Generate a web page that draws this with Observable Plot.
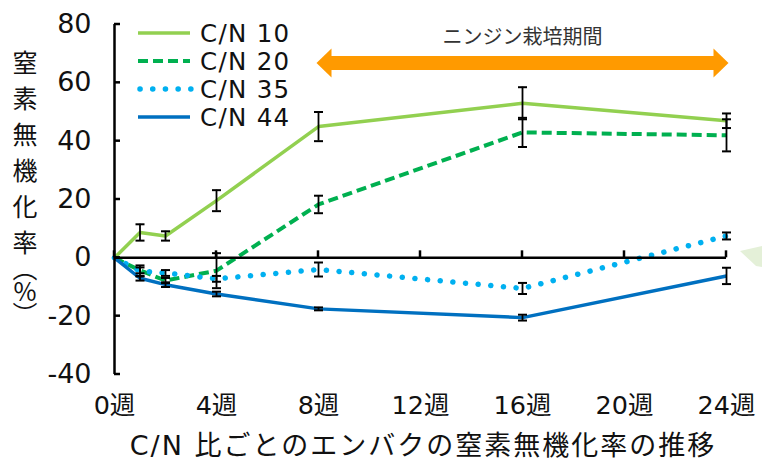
<!DOCTYPE html>
<html><head><meta charset="utf-8">
<script src="https://cdn.jsdelivr.net/npm/d3@7"></script>
<script src="https://cdn.jsdelivr.net/npm/@observablehq/plot@0.6"></script>
<style>html,body{margin:0;padding:0;background:#fff;}</style>
</head><body><div id="chart"></div>
<script>
// ---- data ----
const weeks = [0, 1, 2, 4, 8, 16, 24];
const seriesNames = ["C/N 10", "C/N 20", "C/N 35", "C/N 44"];
const cn10    = [0, 8.7, 7.5, 19.6, 45.0, 53.0, 47.0];
const cn10Err = [0, 2.8, 1.6, 3.6, 5.0, 5.5, 2.5];
const cn20    = [0, -4.3, -7.8, -4.4, 18.3, 43.0, 42.0];
const cn20Err = [0, 1.0, 0.9, 6.0, 3.0, 5.0, 5.5];
const cn35    = [0, -4.5, -5.2, -7.2, -4.0, -10.5, 7.5];
const cn35Err = [0, 1.9, 1.0, 1.0, 2.4, 1.9, 1.2];
const cn44    = [0, -7.0, -9.2, -12.4, -17.5, -20.5, -6.2];
const cn44Err = [0, 0.8, 0.8, 0.8, 0.5, 1.0, 2.8];
const yTicks = [-40, -20, 0, 20, 40, 60, 80];
const xTicks = [0, 4, 8, 12, 16, 20, 24];
const xTickLabels = ["0週", "4週", "8週", "12週", "16週", "20週", "24週"];
const arrowSpan = [8, 24];
const arrowLevel = 66.8;
const arrowLabel = "ニンジン栽培期間";
const yTitleMain = "窒素無機化率";
const yTitleUnit = "︵%︶";
const xTitle = "C/N 比ごとのエンバクの窒素無機化率の推移";

// ---- styles ----
const colors = ["#92d050", "#00b050", "#00b0f0", "#0070c0"];
const dashes = [null, "10,5", "0.1,12.6", null];
const widths = [3.5, 4, 5.5, 3.5];
const caps = ["butt", "butt", "round", "butt"];
const orange = "#ff9a00";
const font = "'DejaVu Sans', 'Noto Sans CJK JP', sans-serif";
const cjk = "'Noto Sans CJK JP', sans-serif";

const vals = [cn10, cn20, cn35, cn44];
const errs = [cn10Err, cn20Err, cn35Err, cn44Err];
const rows = [];
seriesNames.forEach((s, i) => weeks.forEach((w, j) => rows.push({series: s, idx: i, week: w, value: vals[i][j], err: errs[i][j]})));
const errRows = rows.filter(d => d.err > 0);

const capSymbol = {draw(ctx) { ctx.moveTo(-4.5, 0); ctx.lineTo(4.5, 0); }};
const headLeft = {draw(ctx) { ctx.moveTo(-2, 0); ctx.lineTo(13, -14.5); ctx.lineTo(13, 14.5); ctx.closePath(); }};
const headRight = {draw(ctx) { ctx.moveTo(2, 0); ctx.lineTo(-13, -14.5); ctx.lineTo(-13, 14.5); ctx.closePath(); }};

const lineMarks = seriesNames.map((s, i) => Plot.line(rows.filter(d => d.idx === i), {
  x: "week", y: "value", stroke: colors[i], strokeWidth: widths[i],
  strokeDasharray: dashes[i], strokeLinecap: caps[i], strokeLinejoin: "round"
}));

const chart = Plot.plot({
  width: 762, height: 466,
  marginLeft: 114, marginRight: 36, marginTop: 24, marginBottom: 92,
  x: {type: "linear", domain: [0, 24]},
  y: {type: "linear", domain: [-40, 80]},
  style: {fontFamily: font, background: "#fff", color: "#111", overflow: "visible"},
  marks: [
    Plot.axisY(yTicks, {tickSize: 0, tickPadding: 23, fontSize: 27, tickFormat: d => String(d), label: null}),
    Plot.axisX(xTicks, {tickSize: 0, tickPadding: 21, fontSize: 25.5, tickFormat: d => xTickLabels[xTicks.indexOf(d)], label: null}),
    ...lineMarks,
    Plot.ruleX([0], {y1: yTicks[0], y2: yTicks[yTicks.length - 1], stroke: "#000", strokeWidth: 2.5}),
    Plot.ruleY([0], {x1: xTicks[0], x2: xTicks[xTicks.length - 1], stroke: "#000", strokeWidth: 2.5}),
    Plot.ruleX(errRows, {x: "week", y1: d => d.value - d.err, y2: d => d.value + d.err, stroke: "#000", strokeWidth: 1.8}),
    Plot.dot(errRows, {x: "week", y: d => d.value - d.err, symbol: capSymbol, stroke: "#000", strokeWidth: 2, fill: "none"}),
    Plot.dot(errRows, {x: "week", y: d => d.value + d.err, symbol: capSymbol, stroke: "#000", strokeWidth: 2, fill: "none"}),
    Plot.ruleY([arrowLevel], {x1: arrowSpan[0], x2: arrowSpan[1], insetLeft: 12, insetRight: 12, stroke: orange, strokeWidth: 14}),
    Plot.dot([arrowSpan[0]], {x: d => d, y: arrowLevel, symbol: headLeft, fill: orange, stroke: "none"}),
    Plot.dot([arrowSpan[1]], {x: d => d, y: arrowLevel, symbol: headRight, fill: orange, stroke: "none"}),
    Plot.text([arrowLabel], {x: (arrowSpan[0] + arrowSpan[1]) / 2, y: arrowLevel, dy: -25, fontSize: 20, fontFamily: cjk, fill: "#333", text: d => d})
  ]
});
document.getElementById("chart").appendChild(chart);

const svg = d3.select(chart);
const x = chart.scale("x"), y = chart.scale("y");
// inward tick marks
const tg = svg.append("g").attr("stroke", "#000").attr("stroke-width", 2.5);
yTicks.forEach(t => tg.append("line").attr("x1", x.apply(0)).attr("x2", x.apply(0) + 6).attr("y1", y.apply(t)).attr("y2", y.apply(t)));
xTicks.forEach(t => tg.append("line").attr("x1", x.apply(t)).attr("x2", x.apply(t)).attr("y1", y.apply(0)).attr("y2", y.apply(0) - 7));

// legend
const lg = svg.append("g");
const legY = [33, 61, 89, 117];
seriesNames.forEach((s, i) => {
  lg.append("line").attr("x1", 138).attr("x2", 190).attr("y1", legY[i]).attr("y2", legY[i])
    .attr("stroke", colors[i]).attr("stroke-width", widths[i])
    .attr("stroke-dasharray", dashes[i]).attr("stroke-linecap", caps[i])
    .attr("transform", i === 2 ? "translate(2,0)" : null);
  lg.append("text").attr("x", 200).attr("y", legY[i]).attr("dy", "0.36em").attr("text-anchor", "start")
    .attr("font-size", 24.5).attr("letter-spacing", 1.3).attr("font-family", font).attr("fill", "#111").text(s);
});

// y title (vertical writing)
svg.append("text").attr("x", 25).attr("y", 50).attr("text-anchor", "start")
  .attr("style", "writing-mode: vertical-rl; text-orientation: upright;")
  .attr("font-size", 25).attr("letter-spacing", 11).attr("font-family", cjk).attr("fill", "#111").text(yTitleMain);
svg.append("text").attr("x", 25).attr("y", 256).attr("text-anchor", "start")
  .attr("style", "writing-mode: vertical-rl; text-orientation: upright;")
  .attr("font-size", 25).attr("letter-spacing", -2).attr("font-family", cjk).attr("fill", "#111").text(yTitleUnit);

// x title
svg.append("text").attr("x", 423).attr("y", 446).attr("dy", "0.35em").attr("text-anchor", "middle")
  .attr("font-size", 27).attr("letter-spacing", 2).attr("font-family", font).attr("fill", "#111").text(xTitle);

// pale green shape at right edge
svg.append("polygon").attr("points", "740,251 762,246 762,267 756,266").attr("fill", "#e4f0d8");
</script>
</body></html>
